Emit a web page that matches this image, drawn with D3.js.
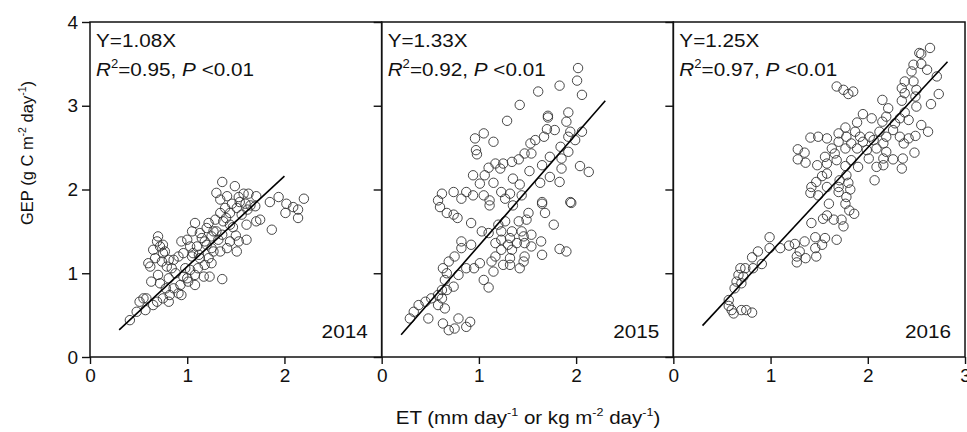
<!DOCTYPE html>
<html>
<head>
<meta charset="utf-8">
<script src="https://cdn.jsdelivr.net/npm/d3@7"></script>
<style>
  html, body { margin: 0; padding: 0; background: #fff; }
  svg text { font-family: Arial, "Liberation Sans", sans-serif; fill: #111; }
</style>
</head>
<body>
<svg id="chart" width="967" height="432"></svg>
<script>
// Panel labels and fit statistics
const years = ["2014", "2015", "2016"];
const slopes = [1.08, 1.33, 1.25];
const r2Labels = ["0.95", "0.92", "0.97"];
const fitRanges = [[0.3, 2.0], [0.2, 2.3], [0.3, 2.82]];
const yTicks = [0, 1, 2, 3, 4];
const xTicksByPanel = [[0, 1, 2], [0, 1, 2], [0, 1, 2, 3]];

// ET (x), GEP (y) pairs
const points2014 = [
  [1.36,2.09],[1.49,2.04],[1.58,1.95],[1.30,1.96],[1.41,1.92],[1.53,1.91],[1.63,1.95],[1.71,1.92],
  [1.34,1.88],[1.46,1.83],[1.54,1.85],[1.60,1.83],[1.39,1.78],[1.44,1.72],[1.51,1.78],[1.65,1.81],
  [1.85,1.85],[1.94,1.91],[2.02,1.83],[2.09,1.79],[2.20,1.89],[2.14,1.76],[2.01,1.72],[2.14,1.66],
  [1.71,1.62],[1.61,1.58],[1.75,1.64],[1.87,1.52],[1.34,1.72],[1.29,1.64],[1.37,1.62],[1.44,1.58],
  [1.22,1.60],[1.08,1.60],[1.05,1.50],[1.13,1.48],[1.20,1.54],[1.27,1.50],[1.15,1.42],[1.00,1.40],
  [1.03,1.32],[0.94,1.38],[1.10,1.32],[1.20,1.34],[1.25,1.44],[1.32,1.40],[1.44,1.38],[1.53,1.38],
  [1.61,1.40],[1.41,1.30],[1.51,1.26],[1.34,1.26],[1.27,1.26],[1.22,1.18],[1.13,1.18],[1.06,1.24],
  [0.96,1.24],[0.91,1.20],[1.18,1.10],[1.11,1.06],[1.25,1.12],[1.03,1.04],[1.08,0.98],[0.98,1.06],
  [0.86,1.16],[0.81,1.16],[0.75,1.24],[0.70,1.44],[0.65,1.28],[0.72,1.32],[0.75,1.34],[0.69,1.38],
  [0.77,1.26],[0.67,1.18],[0.60,1.12],[0.62,1.08],[0.74,1.14],[0.79,1.08],[0.84,1.06],[0.70,0.98],
  [0.63,0.90],[0.72,0.88],[0.81,0.94],[0.86,0.82],[0.93,0.86],[1.01,0.90],[0.94,0.74],[0.91,0.76],
  [0.82,0.74],[0.81,0.66],[0.75,0.70],[0.69,0.66],[0.65,0.62],[0.58,0.70],[0.55,0.70],[0.51,0.66],
  [0.57,0.56],[0.48,0.54],[0.41,0.44],[1.36,0.93],[1.17,0.96],[1.23,0.96],[1.00,0.94],[1.08,0.86],
  [1.30,1.50],[1.18,1.38],[1.36,1.46],[1.05,1.20],[0.88,1.00],[1.25,1.30],[1.47,1.55],[1.56,1.70],
  [1.62,1.76],[1.40,1.66],[0.96,0.96],[1.12,1.22],[0.78,0.82],[1.50,1.45],[1.70,1.80]
];
const points2015 = [
  [2.02,3.45],[2.01,3.30],[1.83,3.24],[2.06,3.13],[1.61,3.17],[1.42,3.01],[1.71,2.86],[1.71,2.88],
  [1.92,2.92],[1.29,2.82],[1.90,2.81],[1.70,2.72],[1.78,2.71],[1.94,2.69],[2.06,2.69],[0.96,2.61],
  [1.05,2.67],[1.15,2.57],[1.58,2.59],[1.67,2.63],[1.92,2.63],[1.99,2.59],[0.97,2.47],[0.98,2.42],
  [1.53,2.55],[1.84,2.51],[1.92,2.45],[1.47,2.43],[1.54,2.43],[1.17,2.31],[1.25,2.31],[1.34,2.33],
  [1.41,2.36],[1.65,2.29],[1.73,2.39],[1.85,2.37],[2.04,2.28],[2.13,2.21],[1.10,2.26],[1.22,2.25],
  [1.52,2.22],[1.85,2.25],[0.94,2.17],[1.06,2.17],[1.35,2.13],[1.73,2.15],[1.01,2.07],[1.15,2.08],
  [1.42,2.06],[1.63,2.08],[1.83,2.09],[0.62,1.95],[0.74,1.97],[0.87,1.97],[0.82,1.89],[0.94,1.93],
  [1.05,1.93],[1.23,1.97],[1.32,1.95],[1.27,1.89],[1.11,1.87],[0.58,1.87],[1.65,1.85],[1.94,1.85],
  [1.44,1.93],[0.60,1.79],[0.67,1.72],[0.74,1.70],[0.78,1.66],[1.11,1.81],[1.35,1.81],[1.51,1.72],
  [1.49,1.64],[1.65,1.83],[1.68,1.72],[1.95,1.84],[0.92,1.60],[1.27,1.62],[1.41,1.62],[1.20,1.58],
  [1.77,1.58],[1.03,1.50],[1.10,1.48],[1.23,1.50],[1.34,1.50],[1.44,1.50],[1.54,1.46],[1.17,1.36],
  [1.23,1.40],[1.32,1.42],[1.39,1.36],[1.47,1.36],[1.46,1.44],[0.82,1.38],[0.92,1.34],[1.30,1.34],
  [1.54,1.32],[1.64,1.38],[1.65,1.22],[1.83,1.29],[1.90,1.26],[0.82,1.30],[1.23,1.28],[1.34,1.28],
  [0.75,1.20],[1.17,1.20],[1.32,1.18],[1.47,1.20],[0.69,1.14],[1.01,1.12],[1.13,1.14],[1.25,1.10],
  [1.32,1.10],[1.46,1.14],[0.63,1.06],[0.87,1.06],[0.95,1.06],[1.42,1.06],[0.67,1.00],[0.79,0.98],
  [1.15,1.02],[0.65,0.92],[1.05,0.92],[0.74,0.84],[1.10,0.83],[0.62,0.80],[0.67,0.80],[0.58,0.74],
  [0.51,0.70],[0.62,0.70],[0.45,0.66],[0.38,0.62],[0.58,0.62],[0.65,0.58],[0.33,0.54],[0.29,0.46],
  [0.48,0.46],[0.63,0.40],[0.79,0.46],[0.69,0.32],[0.75,0.34],[0.91,0.42],[0.87,0.36]
];
const points2016 = [
  [2.64,3.69],[2.53,3.63],[2.55,3.62],[2.47,3.49],[2.55,3.50],[2.61,3.43],[2.45,3.41],[2.71,3.35],
  [2.38,3.29],[2.47,3.29],[2.35,3.21],[2.50,3.19],[2.73,3.14],[2.38,3.15],[1.68,3.23],[1.75,3.19],
  [1.80,3.14],[1.85,3.17],[2.49,3.11],[2.35,3.06],[2.15,3.07],[2.65,3.02],[2.50,2.99],[2.21,2.97],
  [2.38,2.92],[1.95,2.90],[2.04,2.85],[2.19,2.87],[2.33,2.85],[2.42,2.83],[1.89,2.80],[2.15,2.81],
  [2.28,2.79],[2.55,2.77],[1.77,2.74],[2.26,2.71],[2.62,2.69],[1.41,2.62],[1.49,2.63],[1.58,2.61],
  [1.70,2.67],[1.78,2.63],[1.87,2.69],[1.92,2.63],[2.02,2.63],[2.12,2.69],[2.19,2.63],[2.33,2.63],
  [2.42,2.61],[2.49,2.64],[1.70,2.57],[1.83,2.55],[1.95,2.57],[2.06,2.59],[2.16,2.55],[2.37,2.55],
  [1.28,2.48],[1.63,2.49],[1.77,2.49],[1.89,2.49],[1.99,2.47],[2.09,2.49],[2.19,2.45],[2.48,2.44],
  [1.35,2.44],[1.56,2.39],[1.66,2.43],[1.28,2.36],[1.36,2.32],[1.68,2.35],[1.83,2.35],[2.01,2.37],
  [2.16,2.37],[2.26,2.36],[2.36,2.37],[1.48,2.29],[1.58,2.31],[1.77,2.28],[1.90,2.27],[2.09,2.27],
  [2.16,2.29],[2.35,2.25],[1.78,2.17],[1.58,2.19],[1.53,2.16],[2.07,2.11],[1.47,2.09],[1.71,2.11],
  [1.80,2.08],[1.42,2.03],[1.70,2.03],[1.41,1.96],[1.49,1.93],[1.58,2.03],[1.70,1.97],[1.78,1.91],
  [1.82,2.00],[1.60,1.83],[1.77,1.83],[1.81,1.75],[1.86,1.71],[1.58,1.69],[1.54,1.65],[1.65,1.64],
  [1.73,1.64],[1.75,1.56],[1.42,1.60],[0.99,1.43],[1.46,1.43],[1.56,1.42],[1.68,1.40],[1.35,1.38],
  [1.25,1.35],[1.19,1.33],[1.46,1.30],[1.53,1.34],[1.10,1.30],[0.99,1.30],[0.87,1.26],[1.30,1.26],
  [1.27,1.20],[1.36,1.18],[1.47,1.20],[0.81,1.19],[1.27,1.13],[0.91,1.11],[0.69,1.06],[0.74,1.06],
  [0.82,1.06],[0.67,0.98],[0.72,0.96],[0.65,0.90],[0.70,0.88],[0.63,0.82],[0.57,0.68],[0.57,0.61],
  [0.60,0.56],[0.62,0.52],[0.70,0.56],[0.75,0.56],[0.81,0.53]
];
const panelPoints = [points2014, points2015, points2016];

// Layout
const svg = d3.select("#chart");
const marginLeft = 90, marginTop = 22;
const panelW = 291.67, panelH = 335;
const font = 19;
const stretch = "scale(1.09,1)"; // the source figure is slightly wider than tall

const x = d3.scaleLinear().domain([0, 3]).range([0, panelW]);
const y = d3.scaleLinear().domain([0, 4]).range([panelH, 0]);

years.forEach((year, i) => {
  const g = svg.append("g")
    .attr("transform", `translate(${marginLeft + i * panelW},${marginTop})`);

  // Scatter points
  g.append("g").selectAll("circle")
    .data(panelPoints[i])
    .join("circle")
    .attr("cx", d => x(d[0]))
    .attr("cy", d => y(d[1]))
    .attr("r", 4.7)
    .attr("fill", "none")
    .attr("stroke", "#333")
    .attr("stroke-width", 0.9);

  // Regression line through origin
  const fit = fitRanges[i].map(v => [v, slopes[i] * v]);
  g.append("path")
    .datum(fit)
    .attr("d", d3.line().x(d => x(d[0])).y(d => y(d[1])))
    .attr("stroke", "#000")
    .attr("stroke-width", 1.6)
    .attr("fill", "none");

  // Axes
  const xAxis = g.append("g")
    .attr("transform", `translate(0,${panelH})`)
    .call(d3.axisBottom(x).tickValues(xTicksByPanel[i]).tickFormat(d3.format("d"))
      .tickSize(7).tickPadding(5));
  const yAxis = g.append("g")
    .call(d3.axisLeft(y).tickValues(yTicks)
      .tickFormat(i === 0 ? d3.format("d") : "")
      .tickSize(8).tickPadding(4));
  [xAxis, yAxis].forEach(a => {
    a.select(".domain").remove();
    a.selectAll("line").attr("stroke", "#111").attr("stroke-width", 1.4);
    a.selectAll("text").attr("font-size", font).attr("fill", "#111")
      .style("font-family", 'Arial, "Liberation Sans", sans-serif');
  });

  // Frame
  g.append("rect")
    .attr("width", panelW).attr("height", panelH)
    .attr("fill", "none").attr("stroke", "#111").attr("stroke-width", 1.5);

  // Equation and statistics
  g.append("text")
    .attr("transform", `translate(6,25) ${stretch}`)
    .attr("font-size", font)
    .text(`Y=${slopes[i].toFixed(2)}X`);
  const stat = g.append("text")
    .attr("transform", `translate(6,54) ${stretch}`)
    .attr("font-size", font);
  stat.append("tspan").attr("font-style", "italic").text("R");
  stat.append("tspan").attr("font-size", 12).attr("dy", -8).text("2");
  stat.append("tspan").attr("dy", 8).text(`=${r2Labels[i]}, `);
  stat.append("tspan").attr("font-style", "italic").text("P");
  stat.append("tspan").text(" <0.01");

  // Year label
  g.append("text")
    .attr("transform", `translate(${panelW - 14},${panelH - 19}) ${stretch}`)
    .attr("text-anchor", "end")
    .attr("font-size", font)
    .text(year);
});

// Axis titles
const xt = svg.append("text")
  .attr("transform", "translate(528,424) scale(1.14,1)")
  .attr("text-anchor", "middle")
  .attr("font-size", 18);
xt.append("tspan").text("ET (mm day");
xt.append("tspan").attr("font-size", 11).attr("dy", -8).text("-1");
xt.append("tspan").attr("dy", 8).text(" or kg m");
xt.append("tspan").attr("font-size", 11).attr("dy", -8).text("-2");
xt.append("tspan").attr("dy", 8).text(" day");
xt.append("tspan").attr("font-size", 11).attr("dy", -8).text("-1");
xt.append("tspan").attr("dy", 8).text(")");

const yt = svg.append("text")
  .attr("transform", "translate(33,153) rotate(-90)")
  .attr("text-anchor", "middle")
  .attr("font-size", 16.5);
yt.append("tspan").text("GEP (g C m");
yt.append("tspan").attr("font-size", 10.5).attr("dy", -7).text("-2");
yt.append("tspan").attr("dy", 7).text(" day");
yt.append("tspan").attr("font-size", 10.5).attr("dy", -7).text("-1");
yt.append("tspan").attr("dy", 7).text(")");
</script>
</body>
</html>
